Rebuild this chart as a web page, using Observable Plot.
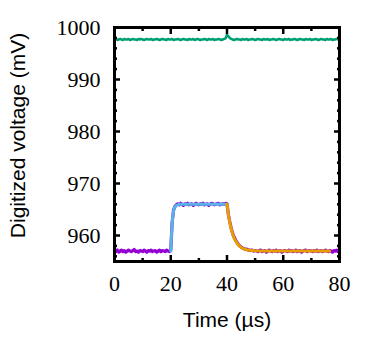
<!DOCTYPE html>
<html><head><meta charset="utf-8">
<script src="https://cdn.jsdelivr.net/npm/d3@7"></script>
<script src="https://cdn.jsdelivr.net/npm/@observablehq/plot@0.6"></script>
<style>
body{margin:0;background:#fff}
#chart svg text.num { font-family: 'Liberation Serif', serif !important; }
#chart svg text.ttl { font-family: 'Liberation Sans', sans-serif !important; }
</style>
</head><body><div id="chart"></div>
<script>
const xTicks = [0, 20, 40, 60, 80];
const xMinor = [10, 30, 50, 70];
const yTicks = [960, 970, 980, 990, 1000];
const yMinor = [956, 958, 962, 964, 966, 968, 972, 974, 976, 978, 982, 984, 986, 988, 992, 994, 996, 998];
const sampleStep = 0.5; // µs between samples

// Reference (green) trace, 0..80 µs
const greenV = [
997.7,997.8,997.6,997.7,997.8,997.7,997.6,997.8,997.7,997.7,
997.8,997.6,997.7,997.8,997.7,997.7,997.6,997.8,997.7,997.8,
997.7,997.6,997.7,997.8,997.7,997.7,997.8,997.6,997.7,997.7,
997.8,997.7,997.6,997.7,997.8,997.7,997.7,997.6,997.8,997.7,
997.7,997.8,997.6,997.7,997.7,997.8,997.7,997.6,997.7,997.8,
997.7,997.7,997.6,997.8,997.7,997.7,997.8,997.6,997.7,997.8,
997.7,997.6,997.7,997.7,997.8,997.7,997.6,997.8,997.7,997.7,
997.8,997.6,997.7,997.7,997.8,997.7,997.6,997.7,997.8,
997.9,998.6,998.3,998.0,997.8,
997.7,997.6,997.7,997.8,997.7,997.7,997.6,997.8,997.7,997.7,
997.8,997.6,997.7,997.7,997.8,997.7,997.6,997.7,997.8,997.7,
997.7,997.6,997.8,997.7,997.7,997.8,997.6,997.7,997.7,997.8,
997.7,997.6,997.7,997.8,997.7,997.7,997.6,997.8,997.7,997.7,
997.8,997.6,997.7,997.7,997.8,997.7,997.6,997.7,997.8,997.7,
997.7,997.6,997.8,997.7,997.7,997.8,997.6,997.7,997.7,997.8,
997.7,997.6,997.7,997.8,997.7,997.7,997.6,997.8,997.7,997.7,
997.8,997.6,997.7,997.7,997.8,997.7,997.7
];

// Pulse (purple) trace, 0..80 µs
const purpleV = [
957.1,956.9,957.2,956.8,957.0,957.2,956.9,957.1,956.8,957.0,
957.2,957.0,956.9,957.1,957.3,956.9,957.0,956.8,957.1,957.0,
956.9,957.2,957.0,956.8,957.1,957.0,957.2,956.9,957.0,957.1,
956.8,957.0,957.2,956.9,957.1,957.0,956.9,957.2,957.0,956.9,
957.2,962.5,964.9,965.6,965.9,
966.1,965.9,966.2,966.0,965.8,966.1,966.0,966.2,965.9,966.0,
966.1,965.8,966.0,966.2,966.0,965.9,966.1,966.0,966.2,965.9,
966.0,966.1,965.8,966.0,966.2,966.1,965.9,966.0,966.1,966.2,
965.9,966.0,966.1,966.0,966.2,
966.1,964.0,962.6,961.4,960.4,959.7,959.2,958.7,958.3,958.0,
957.8,957.6,957.5,957.3,957.4,957.2,957.2,957.1,957.2,957.0,957.1,
957.0,956.9,957.1,957.2,956.9,957.0,957.1,956.8,957.0,957.2,
957.0,956.9,957.1,957.0,957.2,956.9,957.0,957.1,956.8,957.0,
957.1,957.0,956.9,957.2,957.0,957.1,956.9,957.0,957.2,956.9,
957.0,957.1,956.8,957.0,957.1,957.2,956.9,957.0,957.1,957.0,
956.9,957.1,957.0,957.2,956.9,957.0,957.1,956.9,957.0,957.2,
957.0,956.9,957.1,957.0,956.8,957.1,957.0,957.2,956.9,957.0
];

// Rise fit (blue)
const riseT = [20, 20.25, 20.5, 20.75, 21, 21.25, 21.5, 22, 22.5, 23, 24, 26, 30, 35, 40];
const riseV = [957.0, 960.0, 962.3, 963.8, 964.7, 965.2, 965.5, 965.8, 965.9, 966.0, 966.0, 966.0, 966.0, 966.0, 966.0];
// Decay fit (orange)
const decayT = [40, 40.5, 41, 41.5, 42, 42.5, 43, 43.5, 44, 45, 46, 47, 48, 50, 53, 57, 62, 70, 76.5];
const decayV = [966.0, 964.0, 962.5, 961.2, 960.3, 959.5, 959.0, 958.6, 958.2, 957.7, 957.4, 957.25, 957.15, 957.05, 957.0, 957.0, 957.0, 957.0, 957.0];

const xTitle = "Time (µs)";
const yTitle = "Digitized voltage (mV)";

const green = greenV.map((v, i) => ({t: i * sampleStep, v}));
const purple = purpleV.map((v, i) => ({t: i * sampleStep, v}));
const rise = riseT.map((t, i) => ({t, v: riseV[i]}));
const decay = decayT.map((t, i) => ({t, v: decayV[i]}));

const blank = () => "";
const serif = "Liberation Serif";
const sans = "Liberation Sans";

const chart = Plot.plot({
  width: 382,
  height: 338,
  marginLeft: 114,
  marginRight: 43,
  marginTop: 27,
  marginBottom: 77,
  x: {domain: [0, 80]},
  y: {domain: [955, 1000]},
  marks: [
    Plot.line(green, {x: "t", y: "v", stroke: "#009E73", strokeWidth: 2.5}),
    Plot.line(purple, {x: "t", y: "v", stroke: "#9400D3", strokeWidth: 3.2}),
    Plot.line(rise, {x: "t", y: "v", stroke: "#56B4E9", strokeWidth: 3}),
    Plot.line(decay, {x: "t", y: "v", stroke: "#E69F00", strokeWidth: 3}),
    // inward ticks
    Plot.axisX({anchor: "bottom", ticks: xTicks, tickSize: -6, strokeWidth: 2.5, tickFormat: blank, label: null}),
    Plot.axisX({anchor: "top", ticks: xTicks, tickSize: -6, strokeWidth: 2.5, tickFormat: blank, label: null}),
    Plot.axisX({anchor: "bottom", ticks: xMinor, tickSize: -3, strokeWidth: 2.5, tickFormat: blank, label: null}),
    Plot.axisX({anchor: "top", ticks: xMinor, tickSize: -3, strokeWidth: 2.5, tickFormat: blank, label: null}),
    Plot.axisY({anchor: "left", ticks: yTicks, tickSize: -6, strokeWidth: 2.5, tickFormat: blank, label: null}),
    Plot.axisY({anchor: "right", ticks: yTicks, tickSize: -6, strokeWidth: 2.5, tickFormat: blank, label: null}),
    Plot.axisY({anchor: "left", ticks: yMinor, tickSize: -3, strokeWidth: 2.5, tickFormat: blank, label: null}),
    Plot.axisY({anchor: "right", ticks: yMinor, tickSize: -3, strokeWidth: 2.5, tickFormat: blank, label: null}),
    // tick labels (serif), placed through the x / y scales
    Plot.text(xTicks, {x: d => d, frameAnchor: "bottom", dy: 22, text: d => String(d), lineAnchor: "middle", textAnchor: "middle", fontFamily: serif, fontSize: 22, fill: "#000"}),
    Plot.text(yTicks, {y: d => d, frameAnchor: "left", dx: -14, text: d => String(d), lineAnchor: "middle", textAnchor: "end", fontFamily: serif, fontSize: 22, fill: "#000"}),
    Plot.frame({stroke: "#000", strokeWidth: 3}),
    // axis titles (sans)
    Plot.text([xTitle], {frameAnchor: "bottom", dy: 59, lineAnchor: "middle", textAnchor: "middle", fontFamily: sans, fontSize: 21, fill: "#000"}),
    Plot.text([yTitle], {frameAnchor: "left", dx: -96, dy: -9, rotate: -90, textAnchor: "middle", lineAnchor: "middle", fontFamily: sans, fontSize: 21, fill: "#000"})
  ]
});
chart.style.background = "#fff";
d3.select(chart).selectAll("text").each(function() {
  const s = this.textContent;
  const isTitle = s === xTitle || s === yTitle;
  this.classList.add(isTitle ? "ttl" : "num");
  this.style.fontFamily = isTitle ? "'Liberation Sans'" : "'Liberation Serif'";
});
document.getElementById("chart").appendChild(chart);
</script>
</body></html>
